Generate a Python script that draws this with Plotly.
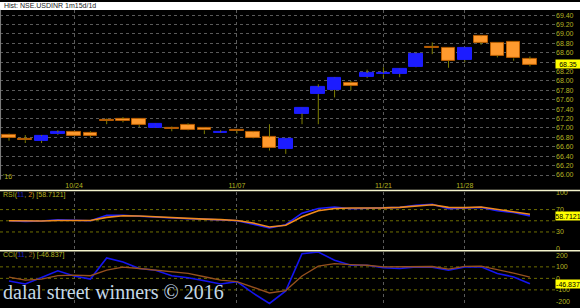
import plotly.graph_objects as go

# ---------------- data ----------------
dates = ["2016-10-18", "2016-10-19", "2016-10-20", "2016-10-21", "2016-10-24", "2016-10-25",
         "2016-10-26", "2016-10-27", "2016-10-28", "2016-10-31", "2016-11-01", "2016-11-02",
         "2016-11-03", "2016-11-04", "2016-11-07", "2016-11-08", "2016-11-09", "2016-11-10",
         "2016-11-11", "2016-11-15", "2016-11-16", "2016-11-17", "2016-11-18", "2016-11-21",
         "2016-11-22", "2016-11-23", "2016-11-24", "2016-11-25", "2016-11-28", "2016-11-29",
         "2016-11-30", "2016-12-01", "2016-12-02"]
open_ = [66.86, 66.76, 66.73, 66.87, 66.91, 66.90, 67.18, 67.19, 67.20, 67.01, 67.01, 67.06,
         67.00, 66.89, 66.95, 66.91, 66.80, 66.55, 67.31, 67.72, 67.81, 67.96, 68.09, 68.14,
         68.15, 68.30, 68.72, 68.71, 68.44, 68.95, 68.81, 68.83, 68.46]
high = [66.88, 66.85, 66.85, 66.95, 66.92, 66.93, 67.20, 67.23, 67.21, 67.09, 67.03, 67.10,
        67.01, 66.95, 66.96, 66.92, 67.08, 66.77, 67.43, 67.93, 68.08, 68.00, 68.24, 68.29,
        68.26, 68.59, 68.82, 68.72, 68.72, 68.96, 68.82, 68.84, 68.52]
low = [66.73, 66.68, 66.68, 66.85, 66.83, 66.80, 67.08, 67.12, 67.02, 67.00, 66.93, 66.95,
       66.87, 66.89, 66.88, 66.78, 66.52, 66.45, 67.08, 67.08, 67.65, 67.80, 68.06, 68.07,
       68.08, 68.29, 68.57, 68.28, 68.40, 68.77, 68.50, 68.43, 68.31]
close = [66.79, 66.74, 66.83, 66.91, 66.84, 66.83, 67.15, 67.15, 67.06, 67.08, 66.98, 66.96,
         66.95, 66.91, 66.93, 66.79, 66.57, 66.76, 67.42, 67.87, 68.07, 67.90, 68.17, 68.17,
         68.25, 68.58, 68.70, 68.43, 68.71, 68.82, 68.54, 68.48, 68.35]
rsi = [50, 49, 49.5, 51.7, 51, 50, 60, 60, 58, 56.5, 54, 53.5, 53, 51, 50, 44, 37, 43, 63.5,
       72, 74.6, 71.4, 72, 73.5, 74, 77.6, 79.4, 71.4, 72.8, 74, 68, 64.7, 58.7121]
rsi_sig = [50, 49.5, 49.5, 50.5, 51, 50.5, 56, 59, 58.5, 57, 55, 54, 53, 52, 50.5, 46, 39, 42,
           57, 68, 72, 72.8, 72.5, 73, 74, 76.7, 78.5, 74, 73.5, 74.6, 70.5, 66.5, 61.7]
cci = [-23, -49, 8, 66, 20, -6, 178, 143, 86, 71, 23, 6, -20, -49, -28, -129, -218, -109, 215,
       229, 157, 114, 114, 92, 86, 100, 98, 71, 100, 100, 43, 12, -46.837]
cci_sig = [11, -15, -6, 23, 28, 23, 71, 97, 86, 71, 57, 43, 14, -15, -28, -77, -127, -106, 20,
           106, 129, 120, 114, 100, 100, 103, 103, 80, 105, 106, 78, 45, 10]

x_tick_vals = ["2016-10-24", "2016-11-07", "2016-11-21", "2016-11-28"]
x_tick_text = ["10/24", "11/07", "11/21", "11/28"]
price_ticks = [66.00 + 0.2 * i for i in range(18)]
rsi_ticks = [0, 30, 70, 100]
cci_ticks = [-200, -100, 0, 100, 200]

title_text = "Hist: NSE.USDINR 1m15d/1d"
watermark = "dalal street winners \u00a9 2016"

# ---------------- styles ----------------
W, H = 580, 308
PW = 555  # plot width in px
LBL = "#b4b420"
FONT = "Liberation Sans"
BLUE = "#1c1cff"
ORANGE = "#ff9a2e"
WICK = "#7f7f00"


def px_x(p):
    return p / PW


def px_y(p):
    return 1 - p / H


fig = go.Figure()

# wicks (outside the bodies)
wx, wy = [], []
for d, o, h, l, c in zip(dates, open_, high, low, close):
    top, bot = max(o, c), min(o, c)
    wx += [d, d, None, d, d, None]
    wy += [h, top, None, bot, l, None]
fig.add_trace(go.Scatter(x=wx, y=wy, mode="lines", line=dict(color=WICK, width=1),
                         xaxis="x", yaxis="y", showlegend=False, hoverinfo="skip"))

# bodies
up = [i for i in range(len(dates)) if close[i] >= open_[i]]
dn = [i for i in range(len(dates)) if close[i] < open_[i]]
fig.add_trace(go.Bar(x=[dates[i] for i in up],
                     y=[max(close[i] - open_[i], 0.012) for i in up],
                     base=[open_[i] for i in up], width=0.84,
                     marker=dict(color=BLUE, line=dict(color=BLUE, width=1)),
                     xaxis="x", yaxis="y", showlegend=False))
fig.add_trace(go.Bar(x=[dates[i] for i in dn],
                     y=[max(open_[i] - close[i], 0.012) for i in dn],
                     base=[close[i] for i in dn], width=0.84,
                     marker=dict(color=ORANGE, line=dict(color="#b85c00", width=1)),
                     xaxis="x", yaxis="y", showlegend=False))

# RSI
fig.add_trace(go.Scatter(x=dates, y=rsi, mode="lines", line=dict(color=BLUE, width=1.6),
                         xaxis="x2", yaxis="y2", showlegend=False))
fig.add_trace(go.Scatter(x=dates, y=rsi_sig, mode="lines", line=dict(color="#f08a1c", width=1.6),
                         xaxis="x2", yaxis="y2", showlegend=False))
# CCI
fig.add_trace(go.Scatter(x=dates, y=cci, mode="lines", line=dict(color="#1414f0", width=1.6),
                         xaxis="x3", yaxis="y3", showlegend=False))
fig.add_trace(go.Scatter(x=dates, y=cci_sig, mode="lines", line=dict(color="#96501e", width=1.3),
                         xaxis="x3", yaxis="y3", showlegend=False))

xr = [-0.553, 33.54]
xcommon = dict(type="category", range=xr, tickvals=x_tick_vals, ticktext=x_tick_text,
               showgrid=True, gridcolor="#5a5a5a", griddash="dot", gridwidth=1,
               zeroline=False, showline=False, ticks="", fixedrange=True,
               tickfont=dict(family=FONT, size=7, color=LBL))

# price labels: the one hidden behind the last-price box is left blank
last_box_lo, last_box_hi = close[-1] - 0.09, close[-1] + 0.09
price_text = ["" if last_box_lo < v < last_box_hi else "%.2f" % v for v in price_ticks]

fig.update_layout(
    width=W, height=H,
    margin=dict(l=0, r=W - PW, t=0, b=0),
    paper_bgcolor="black", plot_bgcolor="black",
    barmode="overlay", bargap=0,
    xaxis=dict(xcommon, domain=[0, 1], anchor="y", showticklabels=True),
    xaxis2=dict(xcommon, domain=[0, 1], anchor="y2", matches="x", showticklabels=False),
    xaxis3=dict(xcommon, domain=[0, 1], anchor="y3", matches="x", showticklabels=False),
    yaxis=dict(domain=[px_y(180), px_y(8)], range=[65.901, 69.511], side="right",
               tickvals=price_ticks, ticktext=price_text,
               showgrid=True, gridcolor="#5a5a5a", griddash="dot", zeroline=False,
               ticks="", tickfont=dict(family=FONT, size=7, color=LBL), anchor="x"),
    yaxis2=dict(domain=[px_y(251), px_y(192)], range=[-1.76, 102.3], side="right",
                tickvals=rsi_ticks, ticktext=[str(v) for v in rsi_ticks],
                showgrid=False, zeroline=False, ticks="",
                tickfont=dict(family=FONT, size=7, color=LBL), anchor="x2"),
    yaxis3=dict(domain=[0, px_y(253)], range=[-240.3, 231.8], side="right",
                tickvals=cci_ticks, ticktext=[str(v) for v in cci_ticks],
                showgrid=False, zeroline=False, ticks="",
                tickfont=dict(family=FONT, size=7, color=LBL), anchor="x3"),
)

shapes = []
# white title strip
shapes.append(dict(type="rect", xref="paper", yref="paper", x0=0, x1=W / PW,
                   y0=px_y(8), y1=1, fillcolor="white", line=dict(width=0), layer="above"))
# indicator grid lines
for v in [30, 50, 70]:
    shapes.append(dict(type="line", xref="x2 domain", yref="y2", x0=0, x1=1, y0=v, y1=v,
                       line=dict(color="#6e6e00", width=1, dash="dot"), layer="below"))
for v in [-100, 0, 100]:
    shapes.append(dict(type="line", xref="x3 domain", yref="y3", x0=0, x1=1, y0=v, y1=v,
                       line=dict(color="#6e6e00", width=1, dash="dot"), layer="below"))
# panel separators
for yy in [191, 252]:
    shapes.append(dict(type="line", xref="paper", yref="paper", x0=0, x1=W / PW,
                       y0=px_y(yy), y1=px_y(yy), line=dict(color="#f4f4cc", width=1.6)))
# left border of price panel
shapes.append(dict(type="line", xref="paper", yref="paper", x0=0.001, x1=0.001,
                   y0=px_y(180), y1=px_y(8), line=dict(color="#808080", width=1)))
fig.update_layout(shapes=shapes)

ann = []
ann.append(dict(text=title_text, xref="paper", yref="paper", x=px_x(2), y=px_y(4),
                xanchor="left", yanchor="middle", showarrow=False,
                font=dict(family=FONT, size=7, color="#202020")))
ann.append(dict(text="'16", xref="paper", yref="paper", x=px_x(1), y=px_y(177),
                xanchor="left", yanchor="middle", showarrow=False,
                font=dict(family=FONT, size=7, color=LBL)))
ann.append(dict(text="RSI(<span style='color:#2020c0'>11</span>, <span style='color:#e07818'>2</span>) [%.4f]" % rsi[-1],
                xref="paper", yref="paper", x=px_x(1), y=px_y(196),
                xanchor="left", yanchor="middle", showarrow=False,
                font=dict(family=FONT, size=7, color=LBL)))
ann.append(dict(text="CCI(<span style='color:#2020c0'>11</span>, <span style='color:#96501e'>2</span>) [%.3f]" % cci[-1],
                xref="paper", yref="paper", x=px_x(1), y=px_y(256),
                xanchor="left", yanchor="middle", showarrow=False,
                font=dict(family=FONT, size=7, color=LBL)))
# current-value boxes
for val, yv, yref in [("%.2f" % close[-1], close[-1], "y"),
                      ("%.4f" % rsi[-1], rsi[-1], "y2"),
                      ("%.3f" % cci[-1], cci[-1], "y3")]:
    ann.append(dict(text=val, xref="paper", yref=yref, x=1.0, y=yv,
                    xanchor="left", yanchor="middle", showarrow=False,
                    width=24, height=8, align="center", bgcolor="#ffff00", borderpad=0,
                    font=dict(family=FONT, size=7, color="black")))
ann.append(dict(text=watermark, xref="paper", yref="paper", x=px_x(1), y=px_y(294),
                xanchor="left", yanchor="middle", showarrow=False,
                font=dict(family="Liberation Serif", size=20, color="#c4d8e8")))
fig.update_layout(annotations=ann)

fig.write_html("out.html")
